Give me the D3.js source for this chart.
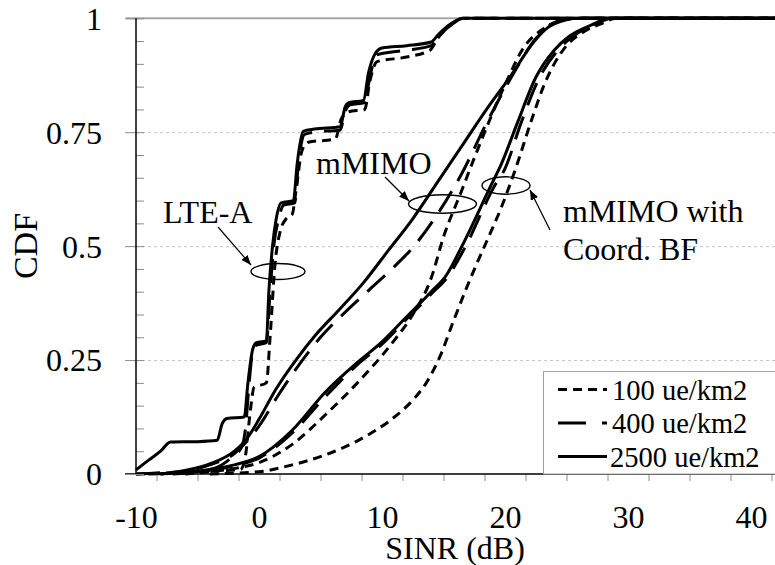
<!DOCTYPE html>
<html>
<head>
<meta charset="utf-8">
<script src="https://cdn.jsdelivr.net/npm/d3@7"></script>
<style>
  html, body { margin: 0; padding: 0; background: #fff; }
  svg { display: block; font-family: "Liberation Serif", "Times New Roman", serif; }
</style>
</head>
<body>
<div id="chart"></div>
<script>
// CDF of SINR for LTE-A, mMIMO and mMIMO with coordinated beamforming
// at three user densities.

const densities = ["100 ue/km2", "400 ue/km2", "2500 ue/km2"];
const xTickLabels = [-10, 0, 10, 20, 30, 40];
const yTickLabels = [0, 0.25, 0.5, 0.75, 1];

// [SINR (dB), CDF]
const lteA100 = [[-10,0],[-7,0.003],[-4,0.006],[-1.5,0.01],[-1.1,0.04],[-0.7,0.14],[-0.4,0.19],[0.6,0.2],[0.9,0.3],[1.3,0.46],[1.7,0.53],[2.2,0.56],[2.7,0.57],[3.0,0.62],[3.5,0.71],[4.0,0.728],[6.2,0.735],[6.7,0.78],[7.3,0.795],[8.6,0.8],[9.0,0.86],[9.6,0.905],[12,0.915],[13.9,0.93],[14.5,0.955],[15.5,0.983],[16.6,1],[42,1]];
const lteA400 = [[-10,0],[-7,0.004],[-4,0.01],[-2.5,0.03],[-1.4,0.06],[-1.1,0.1],[-0.8,0.2],[-0.5,0.27],[-0.2,0.283],[0.6,0.288],[0.9,0.4],[1.2,0.5],[1.6,0.56],[2,0.59],[2.9,0.595],[3.2,0.68],[3.7,0.745],[4.5,0.75],[6.6,0.755],[7.0,0.795],[7.4,0.81],[8.6,0.815],[9.0,0.87],[9.6,0.92],[12,0.93],[14,0.94],[14.6,0.96],[15.6,0.985],[16.6,1],[42,1]];
const lteA2500 = [[-10,0.009],[-9,0.03],[-8,0.05],[-7.2,0.07],[-5,0.071],[-3.4,0.074],[-3.0,0.11],[-2.6,0.122],[-1.2,0.125],[-0.9,0.2],[-0.5,0.275],[-0.2,0.288],[0.6,0.292],[0.8,0.4],[1.1,0.5],[1.4,0.56],[1.8,0.595],[2.8,0.6],[3.1,0.68],[3.6,0.752],[4.5,0.757],[6.6,0.762],[7.0,0.805],[7.3,0.815],[8.5,0.82],[8.9,0.88],[9.5,0.925],[10,0.935],[12,0.94],[14,0.948],[14.6,0.965],[15.6,0.988],[16.6,1],[42,1]];

const mimo100 = [[-6,0],[-4,0.005],[-2,0.012],[0,0.025],[2.7,0.065],[5.4,0.13],[8,0.2],[10.9,0.29],[12.5,0.35],[14,0.43],[15,0.52],[16.45,0.62],[17.6,0.7],[20.1,0.86],[21.5,0.935],[23,0.975],[25,0.998],[26,1],[42,1]];
const mimo400 = [[-8,0],[-6,0.006],[-4,0.02],[-2,0.045],[0,0.105],[1.5,0.17],[3,0.23],[5,0.3],[7,0.355],[9,0.405],[11,0.455],[12.6,0.5],[14.5,0.57],[16.5,0.66],[18.5,0.77],[20.5,0.87],[22.5,0.955],[24,0.99],[25.5,1],[42,1]];
const mimo2500 = [[-8,0],[-6,0.008],[-4,0.022],[-2,0.05],[-1,0.077],[0,0.12],[1.35,0.185],[3,0.25],[4.6,0.305],[6.5,0.36],[8.5,0.42],[10.5,0.49],[12.5,0.56],[14.5,0.64],[16.5,0.72],[18.5,0.8],[20.5,0.875],[22.4,0.95],[23.5,0.98],[25,0.997],[26,1],[42,1]];

const coord100 = [[-4,0],[0,0.005],[2.7,0.02],[5.4,0.042],[8.15,0.075],[10.87,0.122],[12.5,0.162],[13.6,0.2],[14.7,0.257],[15.8,0.335],[16.9,0.41],[17.6,0.455],[18.5,0.51],[19.7,0.585],[20.8,0.665],[22.2,0.78],[23.2,0.855],[24,0.9],[25,0.94],[26.5,0.972],[28,0.99],[29,1],[42,1]];
const coord400 = [[-7,0],[-4,0.008],[-2,0.018],[0,0.035],[2.7,0.09],[5.4,0.17],[8,0.24],[10,0.285],[12,0.34],[14,0.395],[15.4,0.435],[16.8,0.5],[19.1,0.63],[20,0.67],[21.3,0.77],[22.8,0.87],[24.3,0.93],[25.5,0.96],[27.2,0.985],[28.7,1],[42,1]];
const coord2500 = [[-9,0],[-6,0.004],[-4,0.01],[-2,0.02],[0,0.038],[2.7,0.096],[5.4,0.18],[8,0.245],[10,0.29],[12,0.345],[14,0.4],[15.2,0.435],[16.5,0.5],[18.8,0.63],[19.7,0.68],[21,0.77],[22.5,0.87],[24,0.93],[25.2,0.96],[27,0.985],[28.5,1],[42,1]];

// one entry per density, same order as densities
const seriesSets = [
  [lteA100, lteA400, lteA2500],
  [mimo100, mimo400, mimo2500],
  [coord100, coord400, coord2500]
];
const dashes = ["9,6", "24,12", null];

// Chart frame
const W = 775, H = 565;
const plot = { left: 136, top: 18.3, bottom: 474, right: 775.6 };

const svg = d3.select("#chart").append("svg")
  .attr("width", W)
  .attr("height", H);

const x = d3.scaleLinear().domain([-10, 42]).range([plot.left, plot.right]);
const y = d3.scaleLinear().domain([0, 1]).range([plot.bottom, plot.top]);

const grey = "#8c8c8c";

// Horizontal gridlines (dashed) at the labelled values
svg.append("g")
  .attr("transform", `translate(${plot.left},0)`)
  .call(d3.axisLeft(y).tickValues([0.25, 0.5, 0.75]).tickSize(-(plot.right - plot.left)).tickFormat(""))
  .call(g => g.select(".domain").remove())
  .call(g => g.selectAll("line").attr("stroke", "#c4c4c4").attr("stroke-dasharray", "3,3"));

// Top frame line at CDF = 1
svg.append("line")
  .attr("x1", plot.left - 10).attr("x2", plot.right)
  .attr("y1", y(1)).attr("y2", y(1))
  .attr("stroke", "#a8a8a8").attr("stroke-width", 2);

// Curves
const line = d3.line()
  .x(d => x(d[0]))
  .y(d => y(d[1]))
  .curve(d3.curveMonotoneX);

seriesSets.forEach(group => {
  group.forEach((data, i) => {
    svg.append("path")
      .datum(data)
      .attr("d", line)
      .attr("fill", "none")
      .attr("stroke", "#000")
      .attr("stroke-width", 3)
      .attr("stroke-linejoin", "round")
      .attr("stroke-dasharray", dashes[i]);
  });
});

// X axis: minor tick marks between the labels, then the labels
const xMinor = d3.range(0, 16).map(k => -10 + 5 / 3 + k * 10 / 3);
svg.append("g")
  .attr("transform", `translate(0,${plot.bottom})`)
  .call(d3.axisBottom(x).tickValues(xMinor).tickSize(7).tickSizeOuter(0).tickFormat(""))
  .call(g => g.select(".domain").remove())
  .call(g => g.selectAll("line").attr("stroke", grey));

svg.append("g")
  .attr("transform", `translate(0,${plot.bottom})`)
  .call(d3.axisBottom(x).tickValues(xTickLabels).tickSize(0).tickPadding(0).tickFormat(d => String(d)))
  .call(g => g.select(".domain").remove())
  .call(g => g.selectAll("text")
    .attr("y", 54).attr("dy", null)
    .attr("font-family", "Liberation Serif").attr("font-size", 32).attr("fill", "#000"));

svg.append("line")
  .attr("x1", plot.left - 11).attr("x2", plot.right)
  .attr("y1", plot.bottom).attr("y2", plot.bottom)
  .attr("stroke", "#000").attr("stroke-width", 1.5);

// Y axis: minor ticks inside, major ticks crossing, labels on the left
svg.append("g")
  .attr("transform", `translate(${plot.left},0)`)
  .call(d3.axisLeft(y).tickValues(d3.range(0, 1.001, 0.05)).tickSize(-8).tickFormat(""))
  .call(g => g.select(".domain").remove())
  .call(g => g.selectAll("line").attr("stroke", grey));

svg.append("g")
  .attr("transform", `translate(${plot.left},0)`)
  .call(d3.axisLeft(y).tickValues(yTickLabels).tickSize(11).tickPadding(23).tickFormat(d => String(d)))
  .call(g => g.select(".domain").remove())
  .call(g => g.selectAll("line").attr("stroke", grey))
  .call(g => g.selectAll("text")
    .attr("dy", "0.34em")
    .attr("font-family", "Liberation Serif").attr("font-size", 32).attr("fill", "#000"));

svg.append("line")
  .attr("x1", plot.left).attr("x2", plot.left)
  .attr("y1", plot.top).attr("y2", plot.bottom)
  .attr("stroke", "#000").attr("stroke-width", 1.5);

// Axis titles
svg.append("text")
  .attr("x", 455).attr("y", 559)
  .attr("text-anchor", "middle")
  .attr("font-size", 32)
  .text("SINR (dB)");

svg.append("text")
  .attr("transform", "translate(37,246) rotate(-90)")
  .attr("text-anchor", "middle")
  .attr("font-size", 34)
  .text("CDF");

// Legend
const legend = svg.append("g");
legend.append("rect")
  .attr("x", 543.5).attr("y", 371.5)
  .attr("width", 260).attr("height", plot.bottom - 371.5)
  .attr("fill", "#fff").attr("stroke", "#a0a0a0").attr("stroke-width", 1);

densities.forEach((name, i) => {
  const ly = 389.5 + i * 33.5;
  legend.append("line")
    .attr("x1", 558).attr("x2", 607)
    .attr("y1", ly).attr("y2", ly)
    .attr("stroke", "#000").attr("stroke-width", 3)
    .attr("stroke-dasharray", i === 1 ? "28,16" : dashes[i]);
  legend.append("text")
    .attr("x", i === 2 ? 610 : 612).attr("y", ly + 10)
    .attr("font-size", 28.5)
    .text(name);
});

// Annotations: ellipses, arrows and labels
const defs = svg.append("defs");
defs.append("marker")
  .attr("id", "arrow")
  .attr("viewBox", "0 0 10 8")
  .attr("refX", 10).attr("refY", 4)
  .attr("markerWidth", 10).attr("markerHeight", 8)
  .attr("markerUnits", "userSpaceOnUse")
  .attr("orient", "auto")
  .append("path")
  .attr("d", "M0,0 L10,4 L0,8 Z")
  .attr("fill", "#000");

const notes = [
  { label: ["LTE-A"], tx: 163, ty: 223, ex: 278, ey: 271.5, rx: 27, ry: 8, a: [218, 227, 251, 265] },
  { label: ["mMIMO"], tx: 316, ty: 173.5, ex: 442.5, ey: 204, rx: 34, ry: 9.2, a: [385, 177, 409, 201] },
  { label: ["mMIMO with", "Coord. BF"], tx: 563, ty: 222, ex: 506, ey: 185.5, rx: 24, ry: 8.7, a: [550, 230, 530, 190] }
];

notes.forEach(n => {
  svg.append("ellipse")
    .attr("cx", n.ex).attr("cy", n.ey)
    .attr("rx", n.rx).attr("ry", n.ry)
    .attr("fill", "none").attr("stroke", "#000").attr("stroke-width", 1.4);
  svg.append("line")
    .attr("x1", n.a[0]).attr("y1", n.a[1])
    .attr("x2", n.a[2]).attr("y2", n.a[3])
    .attr("stroke", "#000").attr("stroke-width", 1.2)
    .attr("marker-end", "url(#arrow)");
  n.label.forEach((t, i) => {
    svg.append("text")
      .attr("x", n.tx).attr("y", n.ty + i * 38)
      .attr("font-size", 32)
      .text(t);
  });
});
</script>
</body>
</html>
